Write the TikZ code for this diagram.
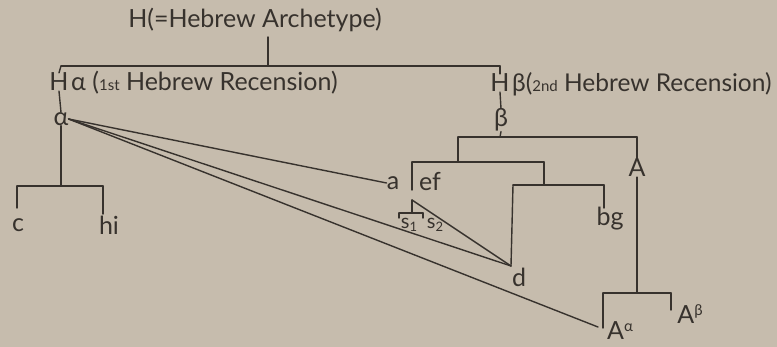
\documentclass[tikz,border=0pt]{standalone}
\usepackage{fontspec}
\setmainfont{Lato}
\definecolor{paper}{RGB}{198,188,173}
\definecolor{ink}{RGB}{55,50,45}
\begin{document}
\begin{tikzpicture}[x=1pt,y=-1pt,
  lbl/.style={inner sep=0pt,text=ink,font=\fontsize{25}{30}\selectfont},
  ln/.style={draw=ink,line width=1.4pt,line cap=round,line join=miter}]
\newcommand{\smalltx}[1]{{\fontsize{15}{15}\selectfont #1}}
\path[fill=paper,use as bounding box] (0,0) rectangle (777,347);

% top
\node[lbl] (title) at (255,20) {H(=Hebrew Archetype)};
\coordinate (tdrop) at (268,37);
\coordinate (tl) at (61,66);
\coordinate (tr) at (500,66);
\coordinate (tm) at (268,66);
\draw[ln] (tdrop) -- (tm);
\draw[ln] (tl) -- (tr);

% left branch
\node[lbl] (Ha) at (59,82) {H};
\node[lbl,anchor=west] (Hatext) at (71,83) {α (\smalltx{1st} Hebrew Recension)};
\node[lbl] (alpha) at (61,119) {α};
\draw[ln] (tl) -- (Ha.north);
\draw[ln] (Ha.south) -- (alpha.north);
\coordinate (am) at (61,186);
\coordinate (al) at (17,186);
\coordinate (ar) at (103,186);
\coordinate (cdrop) at (17,208);
\coordinate (hdrop) at (103,214);
\node[lbl] (c) at (18,225) {c};
\node[lbl] (hi) at (109,225) {hi};
\draw[ln] (alpha.south) -- (am);
\draw[ln] (al) -- (ar);
\draw[ln] (al) -- (cdrop);
\draw[ln] (ar) -- (hdrop);

% right branch
\node[lbl] (Hb) at (500,83) {H};
\node[lbl,anchor=west,font=\fontsize{24.5}{30}\selectfont] (Hbtext) at (512,84) {β(\smalltx{2nd} Hebrew Recension)};
\node[lbl] (beta) at (501,120) {β};
\draw[ln] (tr) -- (Hb.north);
\draw[ln] (Hb.south) -- (beta.north);
\coordinate (bm) at (500,137);
\coordinate (bl) at (458,137);
\coordinate (br) at (637,137);
\draw[ln] (beta.south) -- (bm);
\draw[ln] (bl) -- (br);

\coordinate (cl) at (458,162);
\coordinate (el) at (412,162);
\coordinate (er) at (544,162);
\coordinate (edrop) at (412,190);
\draw[ln] (bl) -- (cl);
\draw[ln] (el) -- (er);
\draw[ln] (el) -- (edrop);
\node[lbl] (a) at (393,183) {a};
\node[lbl] (ef) at (430,182) {ef};

\coordinate (dm) at (544,185);
\coordinate (dl) at (513,185);
\coordinate (dr) at (604,185);
\coordinate (bgdrop) at (604,208);
\coordinate (dend) at (511,266);
\draw[ln] (er) -- (dm);
\draw[ln] (dl) -- (dr);
\draw[ln] (dr) -- (bgdrop);
\draw[ln] (dl) -- (dend);
\node[lbl] (bg) at (610,219) {bg};
\node[lbl] (d) at (519,277) {d};

% s1 s2
\coordinate (apex) at (412,200);
\coordinate (sm) at (412,213);
\coordinate (sl) at (399,213);
\coordinate (sr) at (423,213);
\coordinate (sld) at (399,218);
\coordinate (srd) at (423,218);
\draw[ln] (apex) -- (sm);
\draw[ln] (sl) -- (sr);
\draw[ln] (sl) -- (sld);
\draw[ln] (sr) -- (srd);
\node[lbl] (s1) at (409,225) {\fontsize{20}{20}\selectfont s\raisebox{-3pt}{\fontsize{13}{13}\selectfont 1}};
\node[lbl] (s2) at (435,225) {\fontsize{20}{20}\selectfont s\raisebox{-3pt}{\fontsize{13}{13}\selectfont 2}};
\draw[ln] (apex) -- (dend);

% A
\node[lbl] (A) at (637,168) {A};
\coordinate (Am) at (637,293);
\coordinate (Al) at (603,293);
\coordinate (Ar) at (671,293);
\coordinate (Aadrop) at (603,328);
\coordinate (Abdrop) at (671,310);
\draw[ln] (br) -- (A.north);
\draw[ln] (A.south) -- (Am);
\draw[ln] (Al) -- (Ar);
\draw[ln] (Al) -- (Aadrop);
\draw[ln] (Ar) -- (Abdrop);
\node[lbl] (Aa) at (620,331) {A\raisebox{8pt}{\fontsize{15}{15}\selectfont α}};
\node[lbl] (Ab) at (690,314) {A\raisebox{8pt}{\fontsize{15}{15}\selectfont β}};

% contamination lines from alpha
\coordinate (aaend) at (598,327);
\draw[ln] (alpha.east) -- (a.west);
\draw[ln] (alpha.east) -- (dend);
\draw[ln] (alpha.east) -- (aaend);
\end{tikzpicture}
\end{document}
